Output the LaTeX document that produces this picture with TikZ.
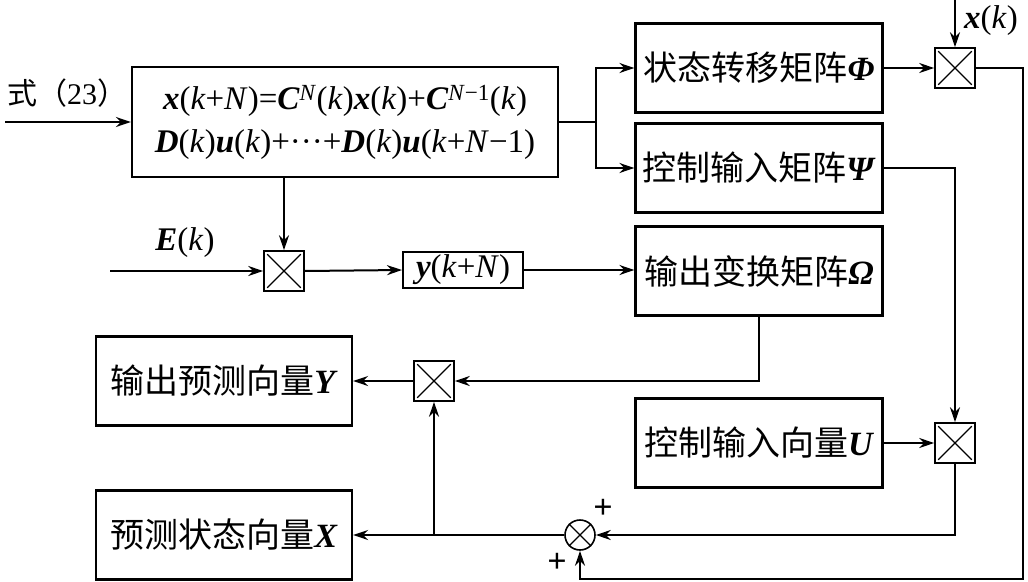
\documentclass[tikz,border=0pt]{standalone}
\usepackage{fontspec}
\setmainfont{Liberation Serif}
\newfontfamily\cjk{Noto Sans CJK SC}
\usetikzlibrary{arrows.meta}

\newcommand{\bv}[1]{\textrm{\bfseries\itshape #1}}
\newcommand{\iv}[1]{\textrm{\itshape #1}}

\begin{document}
\begin{tikzpicture}[x=1pt, y=-1pt, >={Stealth[length=15pt,width=10pt]}, line width=2pt,
  block/.style={draw, line width=2.2pt, minimum width=247pt, minimum height=89pt,
    inner sep=0pt, font=\fontsize{34}{40}\selectfont\cjk},
  mult/.style={draw, line width=1.6pt, minimum width=40pt, minimum height=40pt, inner sep=0pt},
  mathtxt/.style={font=\fontsize{33}{43}\selectfont},
  sign/.style={font=\fontsize{34}{36}\selectfont\bfseries}]
  \useasboundingbox (0,0) rectangle (1028,581);

  % Prediction equation
  \node[draw, line width=2.2pt, minimum width=426pt, minimum height=110pt, align=center,
    inner sep=0pt, mathtxt] (eq) at (345,122)
    {\bv{x}(\iv{k}+\iv{N})=\bv{C}\textsuperscript{\iv{N}}(\iv{k})\bv{x}(\iv{k})+\bv{C}\textsuperscript{\iv{N}−1}(\iv{k})\\
     \bv{D}(\iv{k})\bv{u}(\iv{k})+···+\bv{D}(\iv{k})\bv{u}(\iv{k}+\iv{N}−1)};
  \node[anchor=west, inner sep=0pt, font=\fontsize{30}{34}\selectfont] (src) at (6,93)
    {{\cjk 式（}23{\cjk ）}};
  \coordinate (in) at (5,122);

  % Matrices
  \node[block] (phi) at (759,68) {状态转移矩阵\bv{Φ}};
  \node[block] (psi) at (759,168) {控制输入矩阵\bv{Ψ}};
  \node[block] (omega) at (759,271) {输出变换矩阵\bv{Ω}};
  \node[block] (ctl) at (759,443) {控制输入向量\bv{U}};
  \node[block, minimum width=256pt] (ypred) at (224,381) {输出预测向量\bv{Y}};
  \node[block, minimum width=256pt] (xpred) at (224,535) {预测状态向量\bv{X}};

  % Output of the correction
  \node[draw, line width=2pt, minimum width=120pt, minimum height=36pt, inner sep=0pt,
    mathtxt] (yk) at (463,270) {\bv{y}(\iv{k}+\iv{N})};

  % Multipliers and summer
  \node[mult] (m1) at (284,271) {};
  \node[mult] (m2) at (955,68) {};
  \node[mult] (m3) at (955,443) {};
  \node[mult] (m4) at (434,381) {};
  \node[draw, circle, line width=1.6pt, minimum size=30pt, inner sep=0pt] (sum) at (580,535) {};
  \foreach \m in {m1,m2,m3,m4} {
    \draw[line width=1.2pt] ([shift={(4pt,-4pt)}]\m.north west) -- ([shift={(-4pt,4pt)}]\m.south east);
    \draw[line width=1.2pt] ([shift={(-4pt,-4pt)}]\m.north east) -- ([shift={(4pt,4pt)}]\m.south west);
  }
  \draw[line width=1.2pt] (sum.north west) -- (sum.south east);
  \draw[line width=1.2pt] (sum.north east) -- (sum.south west);

  % Labels
  \node[mathtxt] (elbl) at (185,243) {\bv{E}(\iv{k})};
  \node[mathtxt] (xlbl) at (991,21) {\bv{x}(\iv{k})};
  \node[sign] (p1) at (603,509) {+};
  \node[sign] (p2) at (557,563) {+};

  \coordinate (br) at (596,122);
  \coordinate (ein) at (110,271);
  \coordinate (xin) at (955,0);
  \coordinate (c1) at (1023,579);

  % Connectors
  \draw[->] (in) -- (eq.west);
  \draw (eq.east) -- (br);
  \draw[->] (br) |- (phi.west);
  \draw[->] (br) |- (psi.west);
  \draw[->] (eq.south -| m1.north) -- (m1.north);
  \draw[->] (ein) -- (m1.west);
  \draw[->] (m1.east) -- (yk.west);
  \draw[->] (yk.east) -- (yk.east -| omega.west);
  \draw[->] (xin) -- (m2.north);
  \draw[->] (phi.east) -- (m2.west);
  \draw[->] (m2.east) -| (c1) -| (sum.south);
  \draw[->] (psi.east) -| (m3.north);
  \draw[->] (ctl.east) -- (m3.west);
  \draw[->] (m3.south) |- (sum.east);
  \draw[->] (sum.west) -- (xpred.east);
  \draw[->] (m4 |- sum.west) -- (m4.south);
  \draw[->] (omega.south) |- (m4.east);
  \draw[->] (m4.west) -- (ypred.east);
\end{tikzpicture}
\end{document}
